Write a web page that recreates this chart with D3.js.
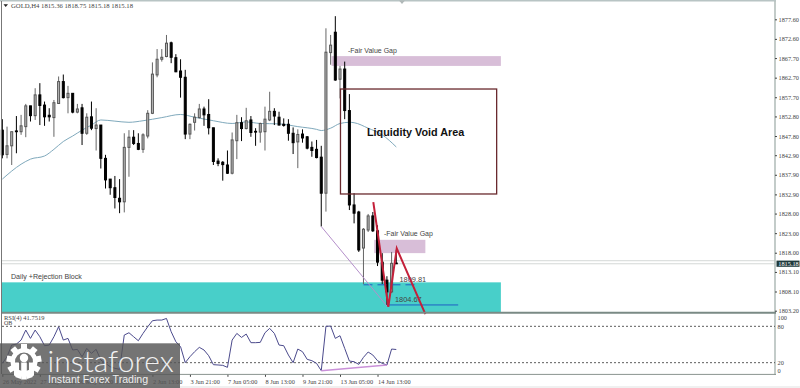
<!DOCTYPE html>
<html>
<head>
<meta charset="utf-8">
<script src="https://cdn.jsdelivr.net/npm/d3@7"></script>
<style>
  html, body { margin: 0; padding: 0; background: #fff; }
  svg { display: block; }
  text { font-family: "Liberation Serif", serif; }
  .note { font-family: "Liberation Sans", sans-serif; font-size: 7px; fill: #444; }
</style>
</head>
<body>
<div id="viewer"></div>
<script>
// H4 candles, one row per bar
var opens = [1849.3,1843.1,1845.3,1849.1,1848.9,1850.2,1855.5,1853.0,1858.3,1855.7,1853.1,1852.5,1856.1,1861.7,1857.6,1858.7,1853.9,1855.0,1848.5,1852.7,1849.7,1850.6,1842.1,1836.8,1834.6,1831.9,1831.0,1844.9,1847.5,1845.9,1844.4,1847.8,1853.6,1863.4,1867.4,1868.1,1871.6,1867.8,1864.4,1862.8,1848.3,1851.3,1852.5,1854.7,1853.3,1849.9,1841.4,1841.1,1840.4,1838.3,1846.6,1851.2,1849.7,1851.9,1849.0,1848.8,1848.9,1851.9,1854.1,1852.6,1850.8,1850.8,1848.5,1846.3,1848.3,1847.6,1844.9,1844.4,1842.4,1833.2,1869.1,1874.3,1862.3,1864.9,1854.3,1830.2,1828.4,1819.2,1823.8,1827.4,1823.6,1815.6,1811.0,1808.0,1815.36];
var highs = [1852.1,1850.2,1848.9,1852.9,1853.2,1856.0,1855.5,1860.0,1861.3,1856.6,1854.9,1857.0,1863.0,1863.5,1860.6,1858.7,1856.0,1856.0,1853.6,1856.6,1854.9,1850.6,1843.0,1836.8,1837.6,1836.8,1848.5,1849.3,1849.3,1848.5,1848.5,1854.4,1866.6,1870.0,1870.0,1873.6,1871.9,1868.7,1867.4,1864.7,1851.0,1853.6,1856.0,1855.3,1857.2,1849.9,1842.1,1841.4,1844.1,1848.7,1853.2,1852.6,1855.0,1852.9,1849.8,1851.2,1855.3,1859.1,1854.9,1854.0,1852.3,1852.1,1850.0,1849.5,1849.5,1847.8,1846.4,1846.8,1845.3,1875.3,1873.6,1878.4,1865.7,1866.8,1858.5,1833.2,1828.7,1824.3,1827.9,1828.4,1825.0,1817.9,1812.0,1818.2,1818.75];
var lows = [1842.1,1842.1,1840.4,1843.4,1848.1,1847.5,1851.5,1851.9,1850.6,1850.4,1851.5,1847.6,1856.0,1857.4,1853.6,1853.6,1853.6,1845.5,1848.1,1849.3,1844.1,1839.5,1834.4,1832.8,1829.3,1828.1,1828.3,1837.4,1845.5,1844.2,1843.5,1847.2,1853.4,1862.8,1866.8,1867.9,1866.4,1864.1,1857.6,1847.0,1847.0,1849.2,1852.3,1850.4,1848.2,1840.4,1840.1,1836.4,1838.1,1838.0,1841.9,1846.5,1849.5,1847.6,1845.3,1846.1,1844.1,1851.6,1850.6,1850.5,1850.2,1846.6,1843.2,1839.6,1846.1,1844.4,1842.5,1842.1,1824.7,1828.5,1866.0,1861.9,1857.4,1852.1,1828.9,1825.5,1818.2,1810.0,1823.3,1823.3,1814.6,1810.0,1804.4,1807.7,1815.18];
var closes = [1843.0,1845.3,1848.9,1848.9,1850.4,1855.5,1853.0,1858.3,1855.6,1852.7,1852.7,1856.3,1861.7,1857.6,1858.7,1853.9,1854.7,1848.5,1852.6,1849.8,1850.6,1842.1,1836.6,1834.6,1832.1,1831.0,1844.9,1847.5,1845.9,1844.4,1848.1,1853.6,1863.6,1867.4,1867.9,1871.5,1867.9,1864.2,1862.8,1848.3,1850.8,1852.6,1854.7,1853.2,1849.9,1841.3,1840.8,1840.5,1838.3,1846.8,1851.2,1849.7,1851.7,1848.7,1848.8,1851.0,1852.1,1854.1,1852.9,1850.6,1850.5,1848.5,1846.1,1848.2,1847.3,1844.7,1844.1,1842.3,1833.2,1869.2,1871.0,1862.1,1864.9,1854.3,1830.2,1828.1,1818.7,1824.0,1827.4,1823.6,1815.6,1811.0,1808.0,1815.3,1815.18];

// moving average, read at the bars listed in maBars
var maBars = [0,4,6,9,11,13,15,17,19,21,24,27,30,34,38,41,45,49,52,55,59,63,67,68,70,72,74,75,78,81,84];
var maValues = [1836.8,1840.6,1841.9,1842.7,1844.4,1846.4,1847.8,1849.3,1850.6,1851.9,1851.6,1851.3,1851.7,1852.5,1853.3,1852.6,1851.7,1851.0,1851.4,1851.0,1850.9,1850.2,1849.5,1849.2,1849.8,1851.0,1851.3,1851.2,1849.8,1848.1,1845.0];

var rsiValues = [18.9,29.8,49.1,50.7,57.3,73.8,60.1,73.8,62.8,48.0,49.1,62.8,79.3,57.3,60.1,40.9,42.0,29.8,43.6,35.4,42.0,24.4,18.9,13.4,10.7,9.0,65.6,69.4,62.8,56.2,68.3,79.3,89.2,90.3,90.3,93.0,71.1,54.6,46.4,20.0,29.8,38.1,45.3,40.9,31.5,16.7,16.2,15.6,12.3,57.3,68.3,61.7,67.2,53.0,53.0,53.5,69.4,76.6,68.3,49.1,48.0,32.6,20.0,42.5,38.1,25.5,23.3,18.9,6.8,80.0,80.4,60.1,64.5,43.6,22.7,21.6,17.2,28.8,37.6,32.6,23.3,18.9,16.1,42.5,41.75];

var priceTicks = [1877.60,1872.60,1867.70,1862.70,1857.70,1852.80,1847.80,1842.90,1837.90,1832.90,1828.00,1823.00,1818.00,1813.10,1808.10,1803.20];
var rsiTicks = [80, 20];
var timeBars = [0,8,16,24,32,40,48,56,64,72,80];
var timeLabels = ["26 May 2022","27 May 13:00","30 May 21:00","1 Jun 05:00","2 Jun 13:00","3 Jun 21:00","7 Jun 05:00","8 Jun 13:00","9 Jun 21:00","13 Jun 05:00","14 Jun 13:00"];

var bid = 1815.18, ask = 1815.96;
var lowLevel = 1804.67, highLevel = 1809.81;

var width = 800, height = 388;
var x = d3.scaleLinear().domain([0, 100]).range([2.33, 471.33]);
var y = d3.scaleLinear().domain([1877.6, 1803.2]).range([19.3, 310.7]);
var yRsi = d3.scaleLinear().domain([100, 0]).range([314.2, 374.8]);

var svg = d3.select("#viewer").append("svg").attr("width", width).attr("height", height);

svg.append("rect").attr("width", width).attr("height", height).attr("fill", "#fff");
svg.append("rect").attr("x", 0).attr("y", 386).attr("width", width).attr("height", 2).attr("fill", "#f0f0f0");

// zones go under the candles
function zone(b0, b1, p0, p1, color) {
  svg.append("rect")
    .attr("x", x(b0)).attr("width", x(b1) - x(b0))
    .attr("y", y(p0)).attr("height", y(p1) - y(p0))
    .attr("fill", color);
}
zone(-0.1, 106.3, 1810.44, 1802.68, "#48cfc9");
zone(70.2, 106.3, 1868.2, 1865.7, "#d8bed8");
zone(79.3, 90.2, 1821.3, 1817.9, "#d8bed8");

// current price lines
svg.selectAll(".priceLine").data([ask, bid]).enter().append("line")
  .attr("x1", 2).attr("x2", 775)
  .attr("y1", function(d) { return y(d); }).attr("y2", function(d) { return y(d); })
  .attr("stroke", "#d4d8d6");

// moving average
var maLine = d3.line().x(function(d, i) { return x(maBars[i]); }).y(function(d) { return y(d); }).curve(d3.curveMonotoneX);
svg.append("path").attr("d", maLine(maValues)).attr("fill", "none").attr("stroke", "#7fa9bc").attr("stroke-width", 1);

// candles
var bars = svg.append("g").selectAll("g").data(d3.range(opens.length)).enter().append("g");
bars.append("line")
  .attr("x1", function(i) { return x(i); }).attr("x2", function(i) { return x(i); })
  .attr("y1", function(i) { return y(highs[i]); }).attr("y2", function(i) { return y(lows[i]); })
  .attr("stroke", function(i) { return closes[i] >= opens[i] ? "#666" : "#000"; });
bars.append("rect")
  .attr("x", function(i) { return x(i) - 1; }).attr("width", 2)
  .attr("y", function(i) { return y(Math.max(opens[i], closes[i])); })
  .attr("height", function(i) { return Math.max(0.6, Math.abs(y(opens[i]) - y(closes[i]))); })
  .attr("fill", function(i) { return closes[i] >= opens[i] ? "#bbb" : "#000"; })
  .attr("stroke", function(i) { return closes[i] >= opens[i] ? "#555" : "#000"; });

// void box
svg.append("rect")
  .attr("x", x(72.1)).attr("width", x(105.4) - x(72.1))
  .attr("y", y(1859.8)).attr("height", y(1833.0) - y(1859.8))
  .attr("fill", "none").attr("stroke", "#6a2a2e").attr("stroke-width", 1.3);

svg.append("text").attr("x", 367).attr("y", 135.5)
  .style("font-family", "Liberation Sans").style("font-weight", "bold").style("font-size", "10.8px")
  .attr("fill", "#111").text("Liquidity Void Area");

svg.append("text").attr("class", "note").attr("x", 348).attr("y", 53).text("-Fair Value Gap");
svg.append("text").attr("class", "note").attr("x", 384).attr("y", 236).text("-Fair Value Gap");
svg.append("text").attr("class", "note").attr("x", 11).attr("y", 279).style("font-size", "7.1px").text("Daily +Rejection Block");

// levels
svg.append("line").attr("x1", x(77)).attr("x2", x(88.4)).attr("y1", y(highLevel)).attr("y2", y(highLevel))
  .attr("stroke", "#1f5fc4").attr("stroke-dasharray", "9,5");
svg.append("line").attr("x1", x(82)).attr("x2", x(97.2)).attr("y1", y(lowLevel)).attr("y2", y(lowLevel))
  .attr("stroke", "#1f5fc4");
svg.append("text").attr("class", "note").attr("x", 399.5).attr("y", y(highLevel) - 3).style("font-size", "7.4px").text(d3.format(".2f")(highLevel));
svg.append("text").attr("class", "note").attr("x", 395).attr("y", y(lowLevel) - 3).style("font-size", "7.4px").text(d3.format(".2f")(lowLevel));

// drawn lines over the candles
var pen = d3.line().x(function(d) { return x(d[0]); }).y(function(d) { return y(d[1]); });
svg.append("path").attr("d", pen([[68, 1824.7], [82, 1804.4]])).attr("fill", "none").attr("stroke", "#b48fca").attr("stroke-width", 1);
svg.append("path").attr("d", pen([[79.1, 1830.9], [82.3, 1804.2], [84.1, 1819.1], [90.2, 1802.3]]))
  .attr("fill", "none").attr("stroke", "#c4203a").attr("stroke-width", 2);

// frame
svg.append("line").attr("x1", 0).attr("x2", 776).attr("y1", 0.8).attr("y2", 0.8).attr("stroke", "#b8c4c4").attr("stroke-width", 1.5);
svg.append("line").attr("x1", 1.5).attr("x2", 1.5).attr("y1", 1).attr("y2", 374).attr("stroke", "#777");
svg.append("line").attr("x1", 775).attr("x2", 775).attr("y1", 1).attr("y2", 375).attr("stroke", "#b4bfbc").attr("stroke-width", 1.6);
svg.append("line").attr("x1", 2).attr("x2", 776).attr("y1", 312.8).attr("y2", 312.8).attr("stroke", "#7a8a85").attr("stroke-width", 2);
svg.append("line").attr("x1", 2).attr("x2", 776).attr("y1", 374.4).attr("y2", 374.4).attr("stroke", "#8a9490");
svg.append("path").attr("d", "M399,0.5 L405,0.5 L402,4 Z").attr("fill", "#b0b8b8");

// header
svg.append("path").attr("d", "M3.5,4.2 L8,4.2 L5.7,7 Z").attr("fill", "#222");
svg.append("text").attr("x", 11).attr("y", 8).style("font-size", "6.7px").attr("fill", "#444")
  .text("GOLD,H4 1815.36 1818.75 1815.18 1815.18");

// price axis
var priceAxis = svg.append("g").attr("transform", "translate(775,0)")
  .call(d3.axisRight(y).tickValues(priceTicks).tickSize(2).tickPadding(1.5).tickFormat(d3.format(".2f")));
priceAxis.select(".domain").remove();
priceAxis.selectAll("text").style("font-size", "6.3px").style("font-family", "Liberation Serif").attr("fill", "#444");
priceAxis.selectAll("line").attr("stroke", "#444");

svg.append("rect").attr("x", 776.5).attr("y", 260.6).attr("width", 23).attr("height", 6.2).attr("fill", "#1f3a3c");
svg.append("text").attr("x", 778.3).attr("y", 265.7).style("font-size", "6.3px").attr("fill", "#fff").text(d3.format(".2f")(bid));

// RSI panel
svg.selectAll(".rsiLevel").data(rsiTicks).enter().append("line")
  .attr("x1", 2).attr("x2", 775)
  .attr("y1", function(d) { return yRsi(d); }).attr("y2", function(d) { return yRsi(d); })
  .attr("stroke", "#333").attr("stroke-width", 0.8).attr("stroke-dasharray", "2,2");

var rsiLine = d3.line().x(function(d, i) { return x(i); }).y(function(d) { return yRsi(d); });
svg.append("path").attr("d", rsiLine(rsiValues)).attr("fill", "none").attr("stroke", "#4b4a8c").attr("stroke-width", 1);

svg.append("path").attr("d", d3.line().x(function(d) { return x(d); }).y(function(d, i) { return yRsi(i ? 16.1 : 6.8); })([68, 82]))
  .attr("fill", "none").attr("stroke", "#c990d8").attr("stroke-width", 1.4);

var rsiAxis = svg.append("g").attr("transform", "translate(775,0)")
  .call(d3.axisRight(yRsi).tickValues(rsiTicks).tickSize(0).tickPadding(2.5));
rsiAxis.select(".domain").remove();
rsiAxis.selectAll("text").style("font-size", "6.3px").style("font-family", "Liberation Serif").attr("fill", "#444");
svg.append("text").attr("x", 777.5).attr("y", 320).style("font-size", "6.3px").attr("fill", "#444").text("100");
svg.append("text").attr("x", 777.5).attr("y", 373).style("font-size", "6.3px").attr("fill", "#444").text("0");

svg.append("text").attr("x", 4).attr("y", 320).style("font-size", "6.5px").attr("fill", "#444").text("RSI(4) 41.7519");
svg.append("text").attr("x", 4).attr("y", 324.5).style("font-size", "6px").attr("fill", "#444").text("OB");

// time axis
var timeAxis = svg.append("g").attr("transform", "translate(0,374.8)")
  .call(d3.axisBottom(x).tickValues(timeBars).tickSize(2).tickPadding(2.5)
    .tickFormat(function(d, i) { return timeLabels[i]; }));
timeAxis.select(".domain").remove();
timeAxis.selectAll("text").style("text-anchor", "start").style("font-size", "6.3px").style("font-family", "Liberation Serif").attr("fill", "#444");
timeAxis.selectAll("line").attr("stroke", "#444");

// watermark
var wm = svg.append("g");
wm.append("rect").attr("x", 0).attr("y", 343.3).attr("width", 180).attr("height", 44.7).attr("fill", "#555").attr("opacity", 0.82);

var gear = wm.append("g").attr("transform", "translate(24,361.5)").attr("fill", "#fff");
gear.selectAll("rect").data(d3.range(9)).enter().append("rect")
  .attr("x", -3).attr("y", -17.5).attr("width", 6).attr("height", 8)
  .attr("transform", function(d) { return "rotate(" + (d * 40 - 160) + ")"; });
gear.append("path").attr("d", d3.arc().innerRadius(9).outerRadius(13.5).startAngle(-2.5).endAngle(2.5)());
gear.append("circle").attr("cx", 0).attr("cy", -3.5).attr("r", 4.2);
gear.append("path").attr("d", "M-2.8,1 L2.8,1 L2.8,18 L-2.8,18 Z");
gear.append("path").attr("d", "M-10,1 L-5,1 L-5,16 L-10,14 Z");
gear.append("path").attr("d", "M10,1 L5,1 L5,16 L10,14 Z");

wm.append("text").attr("x", 47.5).attr("y", 371.5)
  .style("font-family", "Lato").style("font-weight", "300").style("font-size", "30px")
  .attr("fill", "#fff").attr("opacity", 0.9).text("instaforex");
wm.append("text").attr("x", 48).attr("y", 383)
  .style("font-family", "Liberation Sans").style("font-size", "10.6px")
  .attr("fill", "#eee").text("Instant Forex Trading");
</script>
</body>
</html>
